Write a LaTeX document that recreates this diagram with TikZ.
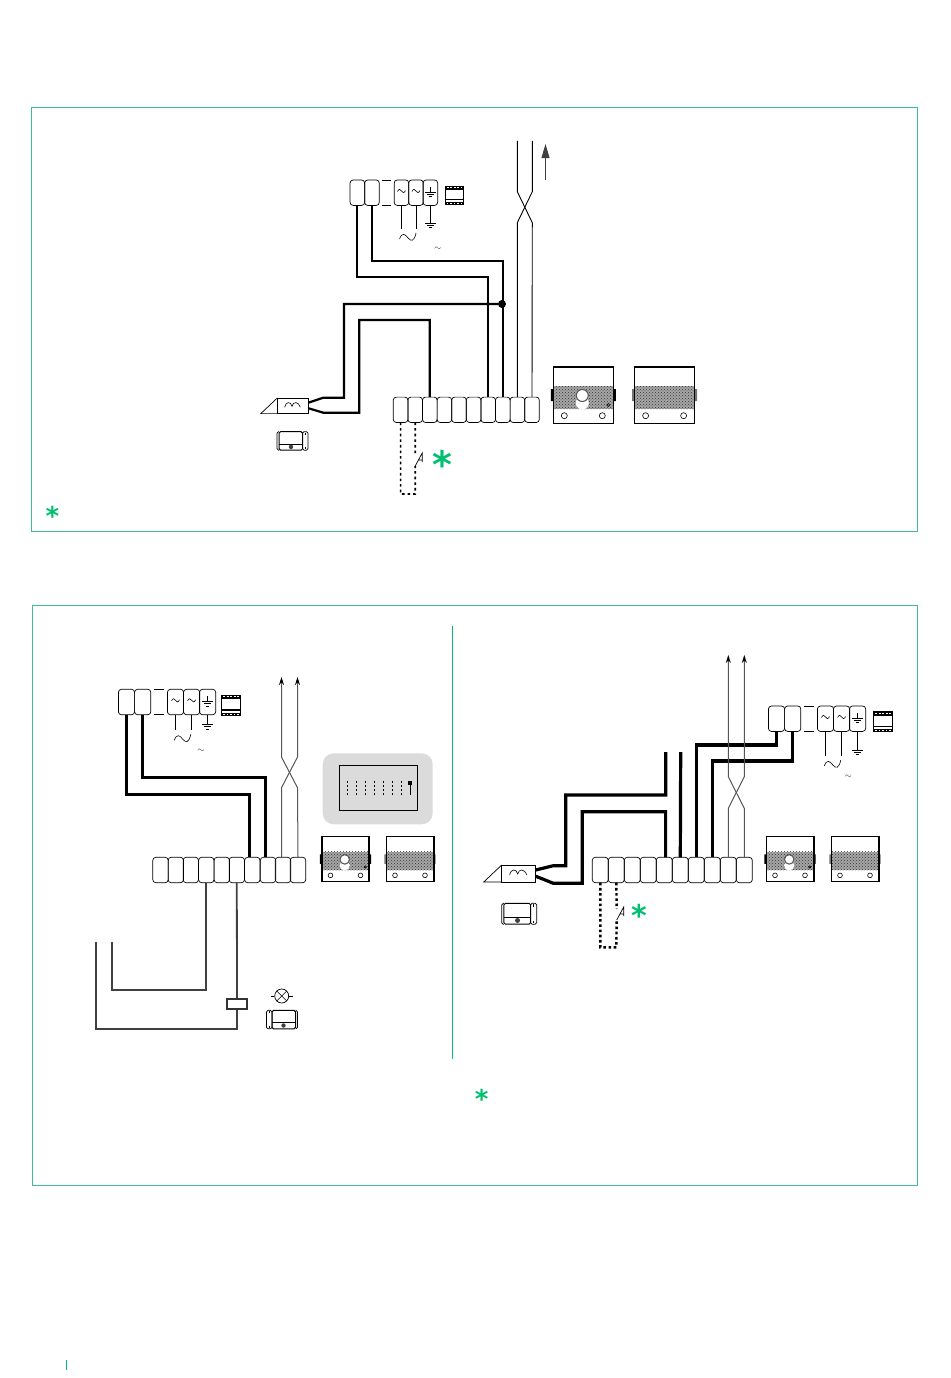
\documentclass[tikz,border=0pt]{standalone}
\usepackage{fontspec}
\usetikzlibrary{arrows.meta,patterns,positioning}
\newfontfamily\starfont{DejaVu Sans}
\definecolor{panelline}{HTML}{3FBF8F}
\definecolor{marker}{HTML}{00BF71}
\definecolor{twistgray}{HTML}{555555}
\tikzset{
  termbox/.style={draw, line width=.7pt, rounded corners=3pt, inner sep=0pt, outer sep=0pt, minimum height=25.4pt, transform shape},
  panelbox/.style={draw=panelline, line width=1pt, inner sep=0pt, outer sep=0pt},
  wirea/.style={line width=2.2pt, line join=miter},
  wireb/.style={line width=3.2pt, line join=miter},
  wirec/.style={line width=1.8pt, color=black!75},
  wirefine/.style={line width=.9pt},
  dotwirea/.style={line width=1.6pt, dash pattern=on 2.6pt off 3pt},
  dotwireb/.style={line width=2.4pt, dash pattern=on 2.6pt off 2.6pt},
  starmark/.style={text=marker, inner sep=0pt, font=\starfont\bfseries\fontsize{#1}{#1}\selectfont},
  tinywave/.style={inner sep=0pt, font=\small, text=black!85},
  acsign/.pic={
    \draw[line width=.6pt] (-4,.5) .. controls (-2.6,-2.6) and (-1,-1.8) .. (0,0) .. controls (1,1.8) and (2.6,2.6) .. (4,-.5);
  },
  bigacsign/.pic={
    \draw[line width=.6pt] (-8.5,2) .. controls (-6,-5) and (-3,-3) .. (0,1) .. controls (3,4.5) and (6,5) .. (8,-4);
  },
  earthbars/.pic={
    \draw[line width=.7pt] (-5.5,0) -- (5.5,0) (-3.6,2.4) -- (3.6,2.4) (-1.8,4.8) -- (1.8,4.8);
  },
  psuicon/.pic={
    \fill[black] (0,0) rectangle (20,21);
    \fill[white] (.8,4.5) rectangle (19.2,14.5);
    \fill[white] (.8,16) rectangle (19.2,18);
    \draw[white, line width=.6pt, dash pattern=on 2pt off 1.5pt] (2,2) -- (18,2);
    \draw[white, line width=.5pt, dash pattern=on 1.5pt off 2pt] (2,19.6) -- (18,19.6);
  },
  psustrip/.pic={
    \foreach \n/\x in {t1/8.2, t2/24.4, t3/57.2, t4/73.3, t5/89.3}
      \node[termbox, minimum width=16.2pt] (-\n) at (\x,12.7) {};
    \draw[line width=.7pt] (36,0) -- (46,0) (36,25.4) -- (46,25.4);
    \pic at (57.2,11) {acsign};
    \pic at (73.3,11) {acsign};
    \draw[line width=.7pt] (89.3,7) -- (89.3,12);
    \pic at (89.3,12) {earthbars};
    \draw[line width=.8pt] (-t3.south) -- (-t3.south |- 0,#1);
    \draw[line width=.8pt] (-t4.south) -- (-t4.south |- 0,#1);
    \draw[line width=.8pt] (-t5.south) -- (-t5.south |- 0,#1-6);
    \pic at (89.3,#1-6) {earthbars};
    \pic at (64.5,#1+8) {bigacsign};
  },
  strikerlock/.pic={
    \draw[line width=.7pt] (0,0) -- (-18,17) -- (0,17);
    \node[draw, line width=.9pt, inner sep=0pt, outer sep=0pt, minimum width=34pt, minimum height=17pt, transform shape, anchor=north west] (-body) at (0,0) {};
    \draw[line width=.6pt] (8,10) .. controls (9,3.5) and (15,3.5) .. (16,9) .. controls (17,3.5) and (23,3.5) .. (25,10);
    \coordinate (-in1) at (34,5);
    \coordinate (-in2) at (34,11.2);
  },
  lockicon/.pic={
    \draw[line width=.7pt, rounded corners=1.5pt] (2,0) -- (0,0) -- (0,18.5) -- (2,18.5);
    \draw[line width=1pt, rounded corners=1.5pt] (2,0) rectangle (25.5,18.5);
    \draw[line width=.8pt] (2,12.5) -- (25.5,12.5);
    \draw[line width=.7pt, rounded corners=1.5pt] (25.5,0) rectangle (31,18.5);
    \draw[line width=.5pt] (28,1) -- (28,3) (28,15.5) -- (28,17.5);
    \fill[black!75] (14,15.2) circle (2.2pt);
  },
  contact/.pic={
    \coordinate (-low) at (0,0);
    \coordinate (-high) at (0,-13);
    \draw[line width=.7pt] (0,0) -- (7,-13) -- (7,-4) (3.5,-6) -- (7,-6);
  },
  doorcam/.pic={
    \fill[black!35] (-30,-9) rectangle (30,14);
    \fill[pattern=crosshatch dots, pattern color=black!80] (-30,-9) rectangle (30,14);
    \fill[black] (-32.5,-6) rectangle (-30,6) (30,-6) rectangle (32.5,6);
    \fill[white] (-1,8) ellipse (6.5pt and 6.5pt);
    \fill[white] (-1,1) circle (6.5pt);
    \draw[black!65, line width=1.1pt] (-1,.5) circle (6pt);
    \node[draw, line width=1.6pt, inner sep=0pt, minimum width=60pt, minimum height=56.6pt, transform shape] (-body) at (0,0) {};
    \draw[line width=.6pt] (-19,20.7) circle (3pt) (19,20.7) circle (3pt);
    \draw[line width=.6pt] (25,10) circle (1.5pt);
  },
  speakerbox/.pic={
    \fill[black!35] (-30,-9) rectangle (30,14);
    \fill[pattern=crosshatch dots, pattern color=black!80] (-30,-9) rectangle (30,14);
    \fill[black!55] (-32.5,-6) rectangle (-30,6) (30,-6) rectangle (32.5,6);
    \node[draw, line width=1.6pt, inner sep=0pt, minimum width=60pt, minimum height=56.6pt, transform shape] (-body) at (0,0) {};
    \draw[line width=.6pt] (-19,20.7) circle (3pt) (19,20.7) circle (3pt);
  },
}
\begin{document}
\begin{tikzpicture}[x=1pt,y=-1pt]
  \useasboundingbox (0,0) rectangle (950,1378);

  \node[panelbox, minimum width=886pt, minimum height=424pt, anchor=north west] (panela) at (31.5,107.5) {};
  \node[panelbox, minimum width=885pt, minimum height=580pt, anchor=north west] (panelb) at (32.5,605.5) {};
  \coordinate (divtop) at (452.5,626);
  \coordinate (divbot) at (452.5,1059);
  \draw[marker, line width=1pt] (divtop) -- (divbot);
  \coordinate (ticktop) at (66.5,1360);
  \coordinate (tickbot) at (66.5,1370);
  \draw[marker, line width=1pt] (ticktop) -- (tickbot);

  % top panel
  \pic[xscale=.9] (pa) at (350,180) {psustrip=49};
  \pic[scale=.93] at (445,185.5) {psuicon};
  \node[tinywave] (wavea) at (437.7,248.5) {$\sim$};
  \foreach \i in {1,...,10}
    \node[termbox, minimum width=14.6pt] (ta\i) at ({400.6+14.6*(\i-1)},409.8) {};
  \pic[scale=.92] (la) at (277.3,398) {strikerlock};
  \pic (ka) at (277,431.7) {lockicon};
  \pic (ma) at (583.3,395) {doorcam};
  \pic (mb) at (664.6,395) {speakerbox};
  \draw[wirea] (pa-t1.south) |- (ta7.north |- 0,276.7) -- (ta7.north);
  \draw[wirea] (pa-t2.south) |- (ta8.north |- 0,261) -- (ta8.north);
  \node[circle, fill=black, inner sep=0pt, minimum size=8pt] (joint) at (502,304) {};
  \draw[wirea] (joint) -| (344,397.7) -- (323.3,397.7) -- (la-in1);
  \draw[wirea] (ta3.north) |- (359.3,320) |- (323.3,412.7) -- (la-in2);
  \coordinate (twa) at (517.3,141);
  \coordinate (twb) at (532.3,141);
  \draw[wirefine] (twa) -- ++(0,50.7) -- ++(15,31) -- (ta10.north);
  \draw[wirefine] (twb) -- ++(0,50.7) -- ++(-15,31) -- (ta9.north);
  \coordinate (arra) at (545.5,180);
  \coordinate (arrb) at (545.5,144);
  \draw[black!75, line width=.9pt, -{Triangle[length=14pt,width=8pt]}] (arra) -- (arrb);
  \pic (swa) at (415.2,466) {contact};
  \draw[dotwirea] (ta1.south) |- (ta2.south |- 0,494) -- (swa-low);
  \draw[dotwirea] (ta2.south) -- (swa-high);
  \node[starmark=38] (stara) at (442.3,464) {*};
  \node[starmark=26] (starb) at (52.3,515.5) {*};

  % bottom left
  \pic (pb) at (118.3,689.3) {psustrip=41};
  \pic at (221,694.5) {psuicon};
  \node[tinywave] (waveb) at (201,751) {$\sim$};
  \foreach \n/\x in {1/160.5,2/175.8,3/190.8,4/206.3,5/221.8,6/236.8,7/252.3,8/268,9/283,10/298}
    \node[termbox, minimum width=15.4pt] (tb\n) at (\x,870) {};
  \draw[wireb] (pb-t1.south) |- ([xshift=-3pt]tb7.north |- 0,794.3) -- ([xshift=-3pt]tb7.north);
  \draw[wireb] (pb-t2.south) |- ([xshift=-2.5pt]tb8.north |- 0,777.3) -- ([xshift=-2.5pt]tb8.north);
  \coordinate (twc) at (281.5,677);
  \coordinate (twd) at (297.5,677);
  \draw[twistgray, line width=1pt, {Stealth[length=8pt,width=5pt,black]}-] (twc) -- (281.5,757) -- (297.5,787.7) -- (tb10.north);
  \draw[twistgray, line width=1pt, {Stealth[length=8pt,width=5pt,black]}-] (twd) -- (297.5,757) -- (281.5,787.7) -- ([xshift=-1.5pt]tb9.north);
  \node[fill=black!14, rounded corners=11pt, minimum width=110pt, minimum height=71pt, inner sep=0pt, outer sep=0pt, anchor=north west] (dipcase) at (322.7,753.3) {};
  \node[draw, line width=.9pt, inner sep=0pt, outer sep=0pt, minimum width=78.4pt, minimum height=44.4pt, anchor=north west] (dipbox) at (339.3,765.7) {};
  \foreach \x in {347.3,356.3,...,401.3}
    \draw[line width=.7pt, dash pattern=on 1.8pt off 2.3pt] (\x,781) -- (\x,795);
  \draw[line width=.8pt] (410.3,781) -- (410.3,795);
  \fill[black] (408.3,781) rectangle (412.3,785);
  \pic[scale=.79] (mc) at (345.5,859) {doorcam};
  \pic[scale=.79] (md) at (410,859) {speakerbox};
  \coordinate (cona) at (95.7,942);
  \coordinate (conb) at (111.7,942);
  \node[draw, line width=1.5pt, color=black!80, fill=white, inner sep=0pt, minimum width=19.6pt, minimum height=9.6pt] (relay) at (237,1004) {};
  \draw[wirec] (tb4.south) |- (conb |- 0,990) -- (conb);
  \draw[wirec] (tb6.south) -- (relay.north);
  \draw[wirec] (relay.south) |- (cona |- 0,1029) -- (cona);
  \node[draw, circle, line width=.7pt, inner sep=0pt, minimum size=14pt] (lamp) at (281.7,996) {};
  \draw[line width=.6pt] (lamp.45) -- (lamp.225) (lamp.135) -- (lamp.315);
  \draw[line width=.6pt] (lamp.west) -- ++(-3.5,0) (lamp.east) -- ++(3.5,0);
  \pic[xscale=-1] (kb) at (297.5,1010.3) {lockicon};

  % bottom right
  \pic (pc) at (768.3,706) {psustrip=50};
  \pic at (873,711) {psuicon};
  \node[tinywave] (wavec) at (848.3,776.7) {$\sim$};
  \foreach \i in {1,...,10}
    \node[termbox, minimum width=16pt] (tc\i) at ({600.3+16*(\i-1)},870) {};
  \pic (lb) at (501.7,865) {strikerlock};
  \pic[scale=1.13] (kc) at (501.7,903.3) {lockicon};
  \pic[scale=.79] (me) at (790,859) {doorcam};
  \pic[scale=.79] (mf) at (855,859) {speakerbox};
  \coordinate (cab) at (665.7,752);
  \coordinate (cac) at (680.7,752);
  \draw[wireb] (cab) -- (665.7,795) -| (565.7,865.7) -- (553.3,865.7) -- (lb-in1);
  \draw[wireb] ([xshift=1.3pt]tc5.north) |- (582.3,811.7) |- (553.3,883.3) -- (lb-in2);
  \draw[wireb] (cac) -- (tc6.north);
  \draw[wireb] (tc7.north) |- (pc-t1.south |- 0,745) -- (pc-t1.south);
  \draw[wireb] (tc8.north) |- (pc-t2.south |- 0,761) -- (pc-t2.south);
  \coordinate (twe) at (728.3,655);
  \coordinate (twf) at (744.3,655);
  \draw[twistgray, line width=1pt, {Stealth[length=8pt,width=5pt,black]}-] (twe) -- (728.3,776.7) -- (744.3,808.3) -- (tc10.north);
  \draw[twistgray, line width=1pt, {Stealth[length=8pt,width=5pt,black]}-] (twf) -- (744.3,776.7) -- (728.3,808.3) -- (tc9.north);
  \pic (swb) at (616.7,920) {contact};
  \draw[dotwireb] (tc1.south) |- (tc2.south |- 0,947.3) -- (swb-low);
  \draw[dotwireb] (tc2.south) -- ([yshift=-2pt]swb-high);
  \node[starmark=30] (starc) at (639,915) {*};
  \node[starmark=26] (stard) at (481.7,1098.5) {*};
\end{tikzpicture}
\end{document}
